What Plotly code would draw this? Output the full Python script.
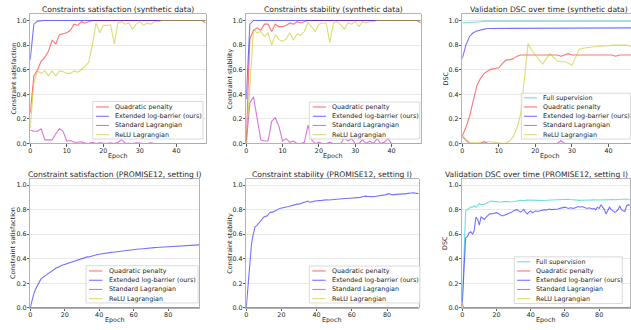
import plotly.graph_objects as go

# ---------------- DATA ----------------
epochs_syn = list(range(49))
epochs_promise = list(range(99))

series_names = ["Full supervision", "Quadratic penalty", "Extended log-barrier (ours)",
                "Standard Lagrangian", "ReLU Lagrangian"]

# Synthetic: constraint satisfaction
sat_syn_quad = [0.25, 0.55, 0.60, 0.67, 0.70, 0.75, 0.84, 0.81, 0.885, 0.89, 0.90, 0.92, 0.97, 0.96, 0.99, 0.98,
                0.99, 1.0, 1.0, 1.0, 1.0, 1.0, 1.0, 1.0, 1.0, 1.0, 1.0, 1.0, 1.0, 1.0, 1.0, 1.0, 1.0, 1.0, 1.0,
                1.0, 1.0, 1.0, 1.0, 1.0, 1.0, 1.0, 1.0, 1.0, 1.0, 1.0, 1.0, 1.0, 0.98]
sat_syn_logb = [0.68, 0.97, 0.995, 1.0, 1.0, 1.0, 1.0, 1.0, 1.0, 1.0, 1.0, 1.0, 1.0, 1.0, 1.0, 1.0, 1.0, 1.0,
                1.0, 1.0, 1.0, 1.0, 1.0, 1.0, 1.0, 1.0, 1.0, 1.0, 1.0, 1.0, 1.0, 1.0, 1.0, 1.0, 1.0, 1.0, 1.0,
                1.0, 1.0, 1.0, 1.0, 1.0, 1.0, 1.0, 1.0, 1.0, 1.0, 1.0, 1.0]
sat_syn_std = [0.11, 0.10, 0.10, 0.12, 0.03, 0.03, 0.03, 0.08, 0.12, 0.10, 0.02, 0.025, 0.01, 0.01, 0.015,
               0.005, 0.0, 0.01, 0.0, 0.005, 0.0, 0.0, 0.005, 0.0, 0.01, 0.03, 0.005, 0.0, 0.0, 0.005, 0.0, 0.0,
               0.0, 0.005, 0.0, 0.0, 0.0, 0.0, 0.0, 0.0, 0.0, 0.0, 0.0, 0.0, 0.0, 0.0, 0.0, 0.0, 0.0]
sat_syn_relu = [0.12, 0.50, 0.59, 0.57, 0.59, 0.55, 0.59, 0.55, 0.59, 0.585, 0.57, 0.57, 0.59, 0.58, 0.60,
                0.63, 0.66, 0.80, 0.98, 0.90, 0.96, 0.96, 0.965, 0.81, 0.98, 0.99, 0.97, 0.98, 0.93, 0.97,
                0.99, 0.96, 0.98, 0.97, 0.99, 0.99, 1.0, 1.0, 1.0, 1.0, 1.0, 1.0, 1.0, 1.0, 1.0, 1.0, 1.0,
                1.0, 1.0]

# Synthetic: constraint stability
stab_syn_quad = [0.02, 0.85, 0.92, 0.94, 0.92, 0.97, 0.97, 0.91, 0.97, 0.95, 0.95, 0.96, 0.98, 0.97, 0.99,
                 0.98, 0.99, 1.0, 1.0, 1.0, 1.0, 1.0, 1.0, 1.0, 1.0, 1.0, 1.0, 1.0, 1.0, 1.0, 1.0, 1.0, 1.0,
                 1.0, 1.0, 1.0, 1.0, 1.0, 1.0, 1.0, 1.0, 1.0, 1.0, 1.0, 1.0, 1.0, 1.0, 1.0, 0.98]
stab_syn_logb = [0.36, 0.97, 1.0, 1.0, 1.0, 1.0, 1.0, 1.0, 1.0, 1.0, 1.0, 1.0, 1.0, 1.0, 1.0, 1.0, 1.0, 1.0,
                 1.0, 1.0, 1.0, 1.0, 1.0, 1.0, 1.0, 1.0, 1.0, 1.0, 1.0, 1.0, 1.0, 1.0, 1.0, 1.0, 1.0, 1.0, 1.0,
                 1.0, 1.0, 1.0, 1.0, 1.0, 1.0, 1.0, 1.0, 1.0, 1.0, 1.0, 1.0]
stab_syn_std = [0.0, 0.33, 0.38, 0.21, 0.03, 0.02, 0.02, 0.18, 0.21, 0.14, 0.02, 0.04, 0.01, 0.02, 0.0, 0.0,
                0.01, 0.15, 0.03, 0.0, 0.01, 0.0, 0.0, 0.01, 0.0, 0.0, 0.0, 0.05, 0.02, 0.04, 0.0, 0.0, 0.03,
                0.0, 0.02, 0.0, 0.04, 0.0, 0.01, 0.04, 0.0, 0.0, 0.0, 0.0, 0.0, 0.0, 0.0, 0.0, 0.0]
stab_syn_relu = [0.0, 0.50, 0.93, 0.90, 0.91, 0.87, 0.90, 0.80, 0.885, 0.845, 0.83, 0.85, 0.90, 0.84, 0.89,
                 0.88, 0.91, 0.985, 0.95, 0.91, 0.97, 0.98, 0.98, 0.82, 0.98, 0.99, 0.965, 0.93, 0.98, 0.97,
                 0.99, 0.95, 0.99, 0.98, 0.99, 0.99, 1.0, 1.0, 1.0, 1.0, 1.0, 1.0, 1.0, 1.0, 1.0, 1.0, 1.0,
                 1.0, 1.0]

# Synthetic: validation DSC
dsc_syn_full = [0.98, 0.985, 0.985, 0.985, 0.985, 0.99, 0.995, 0.995, 0.995, 0.995, 0.995, 0.995, 0.995,
                0.995, 0.995, 0.995, 0.995, 0.995, 0.995, 0.995, 0.995, 0.995, 0.995, 0.995, 0.995, 0.995,
                0.995, 0.995, 0.995, 0.995, 0.995, 0.995, 0.995, 0.995, 0.995, 0.995, 0.995, 0.995, 0.995,
                0.995, 0.995, 0.995, 0.995, 0.995, 0.995, 0.995, 0.995, 0.995, 0.995]
dsc_syn_quad = [0.06, 0.13, 0.22, 0.35, 0.47, 0.53, 0.57, 0.59, 0.605, 0.61, 0.615, 0.65, 0.68, 0.68, 0.69,
                0.71, 0.72, 0.72, 0.72, 0.72, 0.72, 0.72, 0.72, 0.72, 0.72, 0.72, 0.72, 0.71, 0.72, 0.73,
                0.72, 0.72, 0.72, 0.72, 0.72, 0.72, 0.72, 0.72, 0.72, 0.72, 0.72, 0.72, 0.71, 0.72, 0.72,
                0.72, 0.725, 0.72, 0.72]
dsc_syn_logb = [0.69, 0.80, 0.87, 0.90, 0.915, 0.925, 0.93, 0.935, 0.935, 0.938, 0.94, 0.94, 0.94, 0.94,
                0.94, 0.94, 0.94, 0.94, 0.94, 0.94, 0.94, 0.94, 0.94, 0.94, 0.94, 0.94, 0.94, 0.94, 0.94,
                0.94, 0.94, 0.94, 0.94, 0.94, 0.94, 0.94, 0.94, 0.94, 0.94, 0.94, 0.94, 0.94, 0.94, 0.94,
                0.94, 0.94, 0.94, 0.94, 0.94]
dsc_syn_std = [0.055, 0.03, 0.0, 0.0, 0.0, 0.0, 0.015, 0.0, 0.0, 0.0, 0.0, 0.0, 0.0, 0.0, 0.0, 0.0, 0.0,
               0.0, 0.0, 0.0, 0.0, 0.0, 0.0, 0.0, 0.0, 0.0, 0.0, 0.025, 0.0, 0.0, 0.0, 0.0, 0.0, 0.0, 0.0,
               0.0, 0.0, 0.0, 0.0, 0.0, 0.0, 0.0, 0.0, 0.0, 0.0, 0.0, 0.0, 0.0, 0.0]
dsc_syn_relu = [0.07, 0.03, 0.01, 0.005, 0.005, 0.01, 0.015, 0.015, 0.015, 0.01, 0.005, 0.0, 0.005, 0.02,
                0.06, 0.13, 0.24, 0.50, 0.81, 0.76, 0.72, 0.68, 0.645, 0.69, 0.73, 0.70, 0.67, 0.665, 0.665,
                0.655, 0.635, 0.70, 0.765, 0.775, 0.78, 0.785, 0.79, 0.79, 0.79, 0.79, 0.795, 0.80, 0.80,
                0.80, 0.80, 0.80, 0.79, 0.79, 0.79]

# PROMISE12: flat series at zero
promise_zero = [0.0, 0.0, 0.0, 0.0, 0.0, 0.0, 0.0, 0.0, 0.0, 0.0, 0.0, 0.0, 0.0, 0.0, 0.0, 0.0, 0.0, 0.0,
                0.0, 0.0, 0.0, 0.0, 0.0, 0.0, 0.0, 0.0, 0.0, 0.0, 0.0, 0.0, 0.0, 0.0, 0.0, 0.0, 0.0, 0.0,
                0.0, 0.0, 0.0, 0.0, 0.0, 0.0, 0.0, 0.0, 0.0, 0.0, 0.0, 0.0, 0.0, 0.0, 0.0, 0.0, 0.0, 0.0,
                0.0, 0.0, 0.0, 0.0, 0.0, 0.0, 0.0, 0.0, 0.0, 0.0, 0.0, 0.0, 0.0, 0.0, 0.0, 0.0, 0.0, 0.0,
                0.0, 0.0, 0.0, 0.0, 0.0, 0.0, 0.0, 0.0, 0.0, 0.0, 0.0, 0.0, 0.0, 0.0, 0.0, 0.0, 0.0, 0.0,
                0.0, 0.0, 0.0, 0.0, 0.0, 0.0, 0.0, 0.0, 0.0]
dsc_promise_quad = [0.03, 0.0, 0.0, 0.0, 0.0, 0.0, 0.0, 0.0, 0.0, 0.0, 0.0, 0.0, 0.0, 0.0, 0.0, 0.0, 0.0,
                    0.0, 0.0, 0.0, 0.0, 0.0, 0.0, 0.0, 0.0, 0.0, 0.0, 0.0, 0.0, 0.0, 0.0, 0.0, 0.0, 0.0, 0.0,
                    0.0, 0.0, 0.0, 0.0, 0.0, 0.0, 0.0, 0.0, 0.0, 0.0, 0.0, 0.0, 0.0, 0.0, 0.0, 0.0, 0.0, 0.0,
                    0.0, 0.0, 0.0, 0.0, 0.0, 0.0, 0.0, 0.0, 0.0, 0.0, 0.0, 0.0, 0.0, 0.0, 0.0, 0.0, 0.0, 0.0,
                    0.0, 0.0, 0.0, 0.0, 0.0, 0.0, 0.0, 0.0, 0.0, 0.0, 0.0, 0.0, 0.0, 0.0, 0.0, 0.0, 0.0, 0.0,
                    0.0, 0.0, 0.0, 0.0, 0.0, 0.0, 0.0, 0.0, 0.0, 0.0]
dsc_promise_relu = dsc_promise_quad

sat_promise_logb = [0.0, 0.06, 0.11, 0.15, 0.18, 0.21, 0.23, 0.245, 0.255, 0.27, 0.28, 0.29, 0.30, 0.31, 0.32,
                    0.325, 0.33, 0.34, 0.345, 0.35, 0.355, 0.36, 0.365, 0.37, 0.375, 0.38, 0.385, 0.39, 0.395,
                    0.40, 0.40, 0.405, 0.41, 0.415, 0.415, 0.42, 0.42, 0.425, 0.43, 0.435, 0.437, 0.44, 0.44,
                    0.443, 0.445, 0.447, 0.45, 0.452, 0.453, 0.455, 0.457, 0.46, 0.46, 0.462, 0.464, 0.466,
                    0.467, 0.469, 0.47, 0.472, 0.474, 0.476, 0.477, 0.479, 0.48, 0.482, 0.484, 0.485, 0.487,
                    0.488, 0.489, 0.49, 0.491, 0.492, 0.493, 0.494, 0.495, 0.496, 0.497, 0.498, 0.499, 0.50,
                    0.501, 0.502, 0.503, 0.504, 0.505, 0.506, 0.507, 0.507, 0.508, 0.509, 0.51, 0.51, 0.511,
                    0.512, 0.512, 0.513, 0.513]
stab_promise_logb = [0.0, 0.18, 0.36, 0.52, 0.60, 0.66, 0.67, 0.69, 0.71, 0.73, 0.74, 0.745, 0.75, 0.77, 0.78,
                     0.78, 0.785, 0.795, 0.80, 0.81, 0.812, 0.815, 0.815, 0.82, 0.825, 0.83, 0.835, 0.84, 0.84,
                     0.845, 0.845, 0.85, 0.855, 0.86, 0.865, 0.87, 0.86, 0.86, 0.865, 0.87, 0.87, 0.872, 0.874,
                     0.875, 0.877, 0.88, 0.88, 0.878, 0.88, 0.882, 0.882, 0.884, 0.885, 0.886, 0.887, 0.888,
                     0.89, 0.89, 0.891, 0.893, 0.895, 0.895, 0.896, 0.897, 0.898, 0.90, 0.905, 0.908, 0.91,
                     0.907, 0.905, 0.905, 0.906, 0.907, 0.908, 0.91, 0.912, 0.915, 0.918, 0.92, 0.925, 0.93,
                     0.925, 0.92, 0.922, 0.924, 0.925, 0.926, 0.927, 0.928, 0.928, 0.93, 0.932, 0.933, 0.935,
                     0.937, 0.934, 0.93, 0.93]
dsc_promise_full = [0.05, 0.50, 0.79, 0.80, 0.81, 0.82, 0.82, 0.83, 0.82, 0.835, 0.85, 0.84, 0.84, 0.845, 0.85,
                    0.86, 0.865, 0.87, 0.865, 0.865, 0.866, 0.863, 0.862, 0.86, 0.865, 0.866, 0.868, 0.866,
                    0.862, 0.862, 0.864, 0.866, 0.87, 0.875, 0.875, 0.874, 0.873, 0.875, 0.878, 0.877, 0.876,
                    0.874, 0.872, 0.873, 0.875, 0.876, 0.874, 0.872, 0.874, 0.876, 0.877, 0.878, 0.876, 0.877,
                    0.879, 0.88, 0.882, 0.883, 0.884, 0.886, 0.888, 0.886, 0.884, 0.882, 0.88, 0.878, 0.877,
                    0.876, 0.875, 0.875, 0.876, 0.877, 0.876, 0.875, 0.876, 0.877, 0.878, 0.88, 0.879, 0.878,
                    0.879, 0.88, 0.881, 0.88, 0.879, 0.88, 0.881, 0.882, 0.881, 0.88, 0.881, 0.883, 0.885,
                    0.884, 0.882, 0.884, 0.886, 0.882, 0.88]
dsc_promise_logb = [0.03, 0.35, 0.57, 0.58, 0.61, 0.62, 0.60, 0.63, 0.74, 0.72, 0.675, 0.74, 0.73, 0.72, 0.74,
                    0.75, 0.765, 0.765, 0.77, 0.77, 0.775, 0.77, 0.76, 0.75, 0.75, 0.755, 0.76, 0.765, 0.775,
                    0.78, 0.79, 0.795, 0.80, 0.79, 0.78, 0.79, 0.80, 0.78, 0.765, 0.78, 0.79, 0.775, 0.785,
                    0.79, 0.785, 0.79, 0.795, 0.80, 0.80, 0.795, 0.80, 0.805, 0.80, 0.80, 0.805, 0.80, 0.805,
                    0.81, 0.815, 0.82, 0.82, 0.815, 0.81, 0.815, 0.81, 0.81, 0.815, 0.82, 0.825, 0.82, 0.825,
                    0.82, 0.815, 0.81, 0.815, 0.81, 0.805, 0.81, 0.80, 0.82, 0.81, 0.84, 0.82, 0.80, 0.765,
                    0.80, 0.82, 0.80, 0.79, 0.78, 0.785, 0.80, 0.83, 0.80, 0.79, 0.785, 0.83, 0.84, 0.835]

y_ticks = [0.0, 0.2, 0.4, 0.6, 0.8, 1.0]

# ---------------- STYLE / LAYOUT ----------------
W, H = 631, 330
FONT = "DejaVu Sans"
TXT = "#262626"
COLORS = {
    "Full supervision": "rgba(0,191,191,0.55)",
    "Quadratic penalty": "rgba(255,0,0,0.55)",
    "Extended log-barrier (ours)": "rgba(0,0,255,0.55)",
    "Standard Lagrangian": "rgba(191,0,191,0.55)",
    "ReLU Lagrangian": "rgba(191,191,0,0.55)",
}

def px(x):
    return x / W

def py(y):
    return 1 - y / H

panels = [
    dict(title="Constraints satisfaction (synthetic data)", ylabel="Constraint satisfaction",
         x=epochs_syn, series=[("Quadratic penalty", sat_syn_quad), ("Extended log-barrier (ours)", sat_syn_logb),
                               ("Standard Lagrangian", sat_syn_std), ("ReLU Lagrangian", sat_syn_relu)],
         box=(28.3, 14.5, 204.3, 145.3), xmax=48, dtick=10, title_cx=116.3, title_anchor="center",
         xlab_cx=116.3, ylab_x=11.7, mirror_y=True,
         leg=(91, 102.7, 201.7, 140.7), leg_y=[108.3, 117.7, 127, 136.3], leg_line=(94.3, 107.3), leg_text=111.2),
    dict(title="Constraints stability (synthetic data)", ylabel="Constraint stability",
         x=epochs_syn, series=[("Quadratic penalty", stab_syn_quad), ("Extended log-barrier (ours)", stab_syn_logb),
                               ("Standard Lagrangian", stab_syn_std), ("ReLU Lagrangian", stab_syn_relu)],
         box=(245, 14.5, 420, 145.3), xmax=48, dtick=10, title_cx=332.5, title_anchor="center",
         xlab_cx=332.5, ylab_x=229, mirror_y=True,
         leg=(308.3, 103.3, 419, 140.7), leg_y=[108.3, 117.7, 127, 136.3], leg_line=(311.7, 325), leg_text=329),
    dict(title="Validation DSC over time (synthetic data)", ylabel="DSC",
         x=epochs_syn, series=[("Full supervision", dsc_syn_full), ("Quadratic penalty", dsc_syn_quad),
                               ("Extended log-barrier (ours)", dsc_syn_logb),
                               ("Standard Lagrangian", dsc_syn_std), ("ReLU Lagrangian", dsc_syn_relu)],
         box=(461.7, 14.5, 631, 145.3), xmax=46.17, dtick=10, title_cx=630, title_anchor="right",
         xlab_cx=549.7, ylab_x=445, mirror_y=False,
         leg=(521, 94.3, 630.5, 140.7), leg_y=[99, 108.3, 117.7, 127, 136.3], leg_line=(523.5, 536.8), leg_text=540.5),
    dict(title="Constraint satisfaction (PROMISE12, setting I)", ylabel="Constraint satisfaction",
         x=epochs_promise, series=[("Quadratic penalty", promise_zero), ("Extended log-barrier (ours)", sat_promise_logb),
                                   ("Standard Lagrangian", promise_zero), ("ReLU Lagrangian", promise_zero)],
         box=(28.3, 181.1, 197.8, 311.7), xmax=98, dtick=20, title_cx=113, title_anchor="center",
         xlab_cx=113, ylab_x=11.7, mirror_y=True,
         leg=(84.3, 269, 196.7, 306.7), leg_y=[274.3, 283.7, 293, 302.3], leg_line=(87.3, 100.7), leg_text=105),
    dict(title="Constraint stability (PROMISE12, setting I)", ylabel="Constraint stability",
         x=epochs_promise, series=[("Quadratic penalty", promise_zero), ("Extended log-barrier (ours)", stab_promise_logb),
                                   ("Standard Lagrangian", promise_zero), ("ReLU Lagrangian", promise_zero)],
         box=(245, 181.1, 418, 311.7), xmax=98, dtick=20, title_cx=331.5, title_anchor="center",
         xlab_cx=331.5, ylab_x=229, mirror_y=True,
         leg=(308.3, 269.3, 419.3, 306.7), leg_y=[274.3, 283.7, 293, 302.3], leg_line=(311.3, 324.7), leg_text=329),
    dict(title="Validation DSC over time (PROMISE12, setting I)", ylabel="DSC",
         x=epochs_promise, series=[("Full supervision", dsc_promise_full), ("Quadratic penalty", dsc_promise_quad),
                                   ("Extended log-barrier (ours)", dsc_promise_logb),
                                   ("Standard Lagrangian", promise_zero), ("ReLU Lagrangian", dsc_promise_relu)],
         box=(461.7, 181.1, 630, 311.7), xmax=98, dtick=20, title_cx=630, title_anchor="right",
         xlab_cx=545.9, ylab_x=445, mirror_y=True,
         leg=(514, 260, 622.3, 307.3), leg_y=[265, 274.3, 283.7, 293, 302.3], leg_line=(516.7, 530), leg_text=534),
]

fig = go.Figure()
shapes = []
annotations = []
layout_axes = {}

for i, p in enumerate(panels, start=1):
    sfx = "" if i == 1 else str(i)
    xa, ya = "x" + sfx, "y" + sfx
    x0, y0, x1, y1 = p["box"]
    for name, ys in p["series"]:
        fig.add_trace(go.Scatter(x=p["x"], y=ys, mode="lines", name=name, showlegend=False,
                                 line=dict(color=COLORS[name], width=1.1),
                                 xaxis=xa, yaxis=ya, hoverinfo="skip"))
    layout_axes["xaxis" + sfx] = dict(
        domain=[px(x0), px(x1)], anchor=ya, range=[0, p["xmax"]], dtick=p["dtick"], tick0=0,
        showgrid=False, zeroline=False, showline=True, mirror=True, linecolor="#a0a0a0", linewidth=0.8,
        ticks="outside", ticklen=2.5, tickwidth=0.8, tickcolor="#333333", ticklabelstandoff=-2,
        tickfont=dict(family=FONT, size=6.4, color=TXT))
    layout_axes["yaxis" + sfx] = dict(
        domain=[py(y1), py(y0)], anchor=xa, range=[0, 1.05], tickvals=y_ticks, tickformat=".1f",
        showgrid=True, gridcolor="#e3e3e3", gridwidth=0.8, zeroline=False, showline=True,
        mirror=p["mirror_y"], linecolor="#a0a0a0", linewidth=0.8,
        ticks="outside", ticklen=2.5, tickwidth=0.8, tickcolor="#333333", ticklabelstandoff=-1,
        tickfont=dict(family=FONT, size=6.4, color=TXT))
    # title
    annotations.append(dict(text=p["title"], x=px(p["title_cx"]), y=py(y0 - 4.5), xref="paper", yref="paper",
                            xanchor=p["title_anchor"], yanchor="middle", showarrow=False,
                            font=dict(family=FONT, size=7.6, color=TXT)))
    # axis labels
    annotations.append(dict(text="Epoch", x=px(p["xlab_cx"]), y=py(y1 + 12.6), xref="paper", yref="paper",
                            xanchor="center", yanchor="middle", showarrow=False,
                            font=dict(family=FONT, size=6.4, color=TXT)))
    annotations.append(dict(text=p["ylabel"], x=px(p["ylab_x"]), y=py((y0 + y1) / 2), xref="paper", yref="paper",
                            xanchor="center", yanchor="middle", textangle=-90, showarrow=False,
                            font=dict(family=FONT, size=6.4, color=TXT)))
    # legend box
    lx0, ly0, lx1, ly1 = p["leg"]
    shapes.append(dict(type="rect", xref="paper", yref="paper", x0=px(lx0), x1=px(lx1), y0=py(ly1), y1=py(ly0),
                       fillcolor="rgba(255,255,255,0.8)", line=dict(color="#d0d0d0", width=0.8), layer="above"))
    for (name, _), yy in zip(p["series"], p["leg_y"]):
        shapes.append(dict(type="line", xref="paper", yref="paper", x0=px(p["leg_line"][0]), x1=px(p["leg_line"][1]),
                           y0=py(yy), y1=py(yy), line=dict(color=COLORS[name], width=1.1), layer="above"))
        annotations.append(dict(text=name, x=px(p["leg_text"]), y=py(yy), xref="paper", yref="paper",
                                xanchor="left", yanchor="middle", showarrow=False,
                                font=dict(family=FONT, size=6.4, color=TXT)))

fig.update_layout(width=W, height=H, margin=dict(l=0, r=0, t=0, b=0), paper_bgcolor="white",
                  plot_bgcolor="white", showlegend=False, shapes=shapes, annotations=annotations,
                  font=dict(family=FONT, size=6.4, color=TXT), **layout_axes)

fig.write_html("out.html", config={"displayModeBar": False, "staticPlot": True},
               post_script="document.body.style.margin='0';document.body.style.overflow='hidden';")
